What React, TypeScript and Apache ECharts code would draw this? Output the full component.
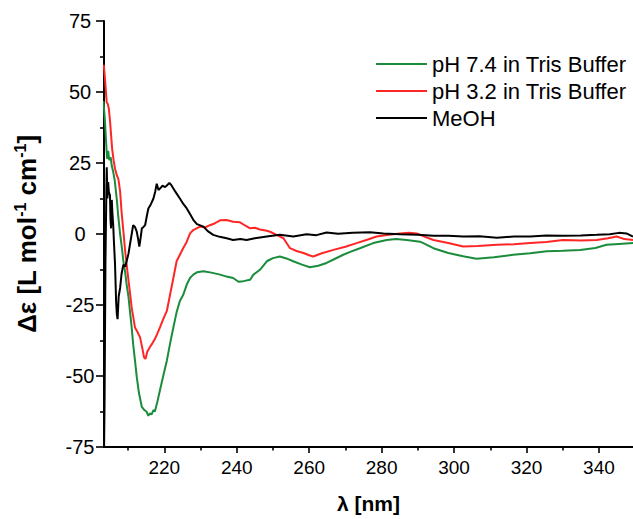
import React, { useEffect, useRef } from "react";
import * as echarts from "echarts";

const FONT = "'Liberation Sans', Arial, sans-serif";

const seriesNames = ["pH 7.4 in Tris Buffer", "pH 3.2 in Tris Buffer", "MeOH"];
const seriesColors = ["#1a8c3c", "#ff2626", "#000000"];

const xMajorTicks = [220, 240, 260, 280, 300, 320, 340];
const xMinorTicks = [210, 230, 250, 270, 290, 310, 330];

const ph74: [number, number][] = [
  [203.2, 46.8], [203.6, 40], [203.9, 33], [204.2, 26.5], [204.5, 29.3], [204.8, 26], [205.2, 27], [205.5, 24],
  [205.9, 21.8], [206.3, 19], [206.9, 12], [207.3, 6], [207.8, 0], [208.3, -5], [208.7, -9.6], [209.2, -13.5],
  [209.6, -17.8], [210.1, -22], [210.5, -27], [211.0, -33], [211.4, -38.8], [211.9, -44.5], [212.4, -50.4],
  [213.0, -56], [213.8, -60.9], [214.5, -62], [215.1, -62.6], [215.6, -64], [216.0, -63.2], [216.5, -63.5],
  [217.0, -62], [217.4, -62.5], [218.1, -59], [218.8, -55], [219.7, -50], [220.7, -44.6], [221.6, -38.5],
  [222.5, -32.9], [223.4, -27.5], [224.3, -23.6], [225.2, -21.5], [226.2, -17.8], [227.1, -15.5], [228.0, -14.3],
  [229.0, -13.5], [230.8, -13.1], [233.0, -13.6], [235.4, -14.3], [237.2, -15], [239.0, -15.5], [240.5, -16.8],
  [241.8, -16.6], [243.7, -16.1], [244.6, -14.3], [246.4, -12.6], [248.3, -9.6], [250.0, -8.5], [251.9, -7.9],
  [253.7, -8.6], [255.6, -9.6], [258.0, -10.8], [260.2, -11.7], [262.5, -11.2], [264.8, -10.2], [267.0, -8.8],
  [269.4, -7.3], [271.5, -6.2], [274.0, -5], [277.7, -3.2], [281.4, -2.1], [284.0, -1.8], [286.9, -2.1],
  [290.6, -2.7], [292.5, -3.8], [294.3, -5], [298.4, -6.7], [302.5, -7.8], [306.2, -8.7], [311.0, -8.2],
  [316.3, -7.3], [321.0, -6.8], [325.6, -6.1], [330.0, -5.9], [334.8, -5.6], [339.0, -4.9], [342.1, -3.8],
  [345.5, -3.5], [349.4, -3.2],
];

const ph32: [number, number][] = [
  [203.3, 59.6], [203.6, 55], [203.9, 49.8], [204.1, 46.3], [204.4, 45.8], [204.7, 44], [205.0, 40], [205.3, 35],
  [205.6, 30], [206.0, 26], [206.4, 23], [206.9, 20.6], [207.3, 19.5], [207.8, 15], [208.2, 7.8], [208.7, 1],
  [209.2, -6.1], [209.8, -13], [210.5, -20.5], [211.0, -26], [211.4, -29], [211.9, -32.9], [212.6, -34.5],
  [213.3, -36.4], [213.9, -40], [214.4, -43.4], [214.8, -44], [215.3, -41.5], [216.0, -39.9], [216.7, -38.5],
  [217.4, -37], [218.1, -35], [218.8, -32.9], [219.7, -30], [220.7, -27.1], [221.6, -21.3], [222.5, -15.5],
  [223.4, -9.6], [224.3, -7.3], [225.2, -5], [226.2, -2.7], [227.1, 0.2], [228.0, 1.4], [228.9, 2], [229.9, 2.6],
  [231.2, 2.3], [232.6, 3.1], [234.0, 3.8], [235.4, 4.8], [237.2, 4.9], [239.0, 4.3], [240.9, 4.1], [242.3, 3],
  [243.7, 2], [245.0, 2.2], [246.4, 1.6], [248.0, 1.2], [249.2, 0.8], [251.0, -0.3], [252.9, -1.5], [254.7, -5],
  [256.5, -6], [258.4, -6.7], [260.0, -7.5], [261.1, -7.9], [263.5, -6.8], [266.7, -5.6], [270.0, -4.5],
  [273.1, -3.2], [276.0, -2], [278.6, -0.9], [282.0, -0.3], [285.1, 0.2], [287.5, 0.4], [289.7, 0.2], [292.0, -1],
  [294.3, -2.1], [298.4, -3.2], [302.5, -4.4], [306.5, -4.2], [311.8, -3.8], [316.5, -3.6], [321.0, -3.2],
  [325.5, -2.8], [330.1, -2.1], [335.0, -2.3], [339.4, -2.1], [342.5, -1.5], [344.9, -0.9], [347.0, -1.8],
  [349.4, -2.1],
];

const meoh: [number, number][] = [
  [203.2, -95], [203.5, -60], [203.75, -10], [204.0, 15], [204.1, 23.5], [204.3, 12.5], [204.5, 18.3],
  [204.7, 14.8], [205.0, 13.6], [205.15, 5], [205.3, 2], [205.5, 12], [205.65, 7.8], [205.9, 3], [206.1, -3],
  [206.4, -10.8], [206.7, -24], [206.9, -28.3], [207.1, -30], [207.4, -22], [207.8, -19], [208.2, -14],
  [208.7, -10.8], [209.2, -11.5], [209.6, -9.6], [210.1, -7], [210.5, -3.8], [211.0, 0], [211.4, 3.1],
  [211.9, 2.5], [212.4, 0.8], [212.8, -2], [213.1, -4.4], [213.5, -1], [213.8, 2], [214.2, 2.4], [214.7, 3.1],
  [215.2, 6.5], [215.6, 9], [216.3, 10.5], [217.0, 12.5], [217.5, 15], [217.9, 17.7], [218.4, 15.5], [218.8, 16],
  [219.5, 17], [220.2, 16.5], [220.7, 17.1], [221.4, 18], [222.0, 17.1], [223.0, 15], [224.3, 12.5],
  [225.3, 10.5], [226.2, 9], [227.1, 7], [228.0, 5], [229.0, 3.5], [230.8, 2.6], [232.0, 1], [233.5, -0.3],
  [235.3, -1], [237.2, -1.5], [239.0, -2.1], [241.0, -1.8], [242.7, -2.1], [245.0, -1.5], [248.3, -0.9],
  [251.9, -0.3], [255.6, -0.9], [259.3, -0.1], [262.0, -0.4], [264.8, 0.5], [268.0, 0.1], [272.0, 0.4],
  [276.8, 0.6], [280.5, 0.2], [285.1, -0.1], [290.0, -0.3], [294.3, -0.6], [298.4, -0.6], [302.5, -0.9],
  [307.0, -0.8], [311.8, -1.3], [316.5, -0.9], [321.0, -0.9], [325.5, -0.5], [330.1, -0.6], [335.0, -0.5],
  [339.4, -0.3], [343.0, -0.1], [345.5, 0.4], [347.6, 0.2], [349.4, -0.9],
];

const X_MIN = 203.35;
const X_MAX = 349.4;

export default function App() {
  const ref = useRef<HTMLDivElement>(null);
  useEffect(() => {
    if (!ref.current) return;
    const chart = echarts.init(ref.current, null, { renderer: "svg" });
    const axisLineStyle = { color: "#000", width: 2 };
    const tickLineStyle = { color: "#000", width: 1.6 };
    const datasets = [ph74, ph32, meoh];
    chart.setOption({
      animation: false,
      grid: { left: 104, right: 0, top: 21, bottom: 68, containLabel: false },
      legend: {
        orient: "vertical",
        left: 376,
        top: 53,
        padding: 0,
        icon: "rect",
        itemWidth: 51,
        itemHeight: 2,
        itemGap: 5,
        data: seriesNames,
        textStyle: { fontSize: 22, fontFamily: FONT, color: "#000", padding: [0, 0, 0, 0] },
      },
      xAxis: [
        {
          type: "value",
          min: X_MIN,
          max: X_MAX,
          name: "λ [nm]",
          nameLocation: "middle",
          nameGap: 46,
          nameTextStyle: { fontSize: 21, fontWeight: "bold", fontFamily: FONT, color: "#000" },
          axisLine: { show: true, onZero: false, lineStyle: axisLineStyle },
          axisTick: { show: true, customValues: xMajorTicks, length: 6, lineStyle: tickLineStyle },
          axisLabel: { customValues: xMajorTicks, color: "#000", fontSize: 19, fontFamily: FONT, margin: 11 },
          splitLine: { show: false },
        },
        {
          type: "value",
          min: X_MIN,
          max: X_MAX,
          position: "bottom",
          axisLine: { show: false, onZero: false },
          axisTick: { show: true, customValues: xMinorTicks, length: 3.5, lineStyle: tickLineStyle },
          axisLabel: { show: false },
          splitLine: { show: false },
        },
      ],
      yAxis: {
        type: "value",
        min: -75,
        max: 75,
        interval: 25,
        name: "{a|Δε [L mol}{s|-1}{a| cm}{s|-1}{a|]}",
        nameLocation: "middle",
        nameRotate: 90,
        nameGap: 62,
        nameTextStyle: {
          rich: {
            a: { fontSize: 26, fontWeight: "bold", fontFamily: FONT, color: "#000", lineHeight: 30 },
            s: { fontSize: 16, fontWeight: "bold", fontFamily: FONT, color: "#000", verticalAlign: "top", lineHeight: 30 },
          },
        },
        axisLine: { show: true, onZero: false, lineStyle: axisLineStyle },
        axisTick: { show: true, length: 8, lineStyle: tickLineStyle },
        minorTick: { show: true, splitNumber: 2, length: 4, lineStyle: tickLineStyle },
        minorSplitLine: { show: false },
        axisLabel: { color: "#000", fontSize: 20, fontFamily: FONT, align: "center", margin: 24 },
        splitLine: { show: false },
      },
      series: seriesNames.map((name, i) => ({
        name,
        type: "line",
        xAxisIndex: 0,
        data: datasets[i],
        symbol: "none",
        showSymbol: false,
        clip: true,
        lineStyle: { color: seriesColors[i], width: 2 },
        itemStyle: { color: seriesColors[i] },
        z: 2 + i,
      })),
    });
    return () => chart.dispose();
  }, []);
  return <div ref={ref} style={{ width: 633, height: 519, position: "absolute", left: 0, top: 0 }} />;
}
